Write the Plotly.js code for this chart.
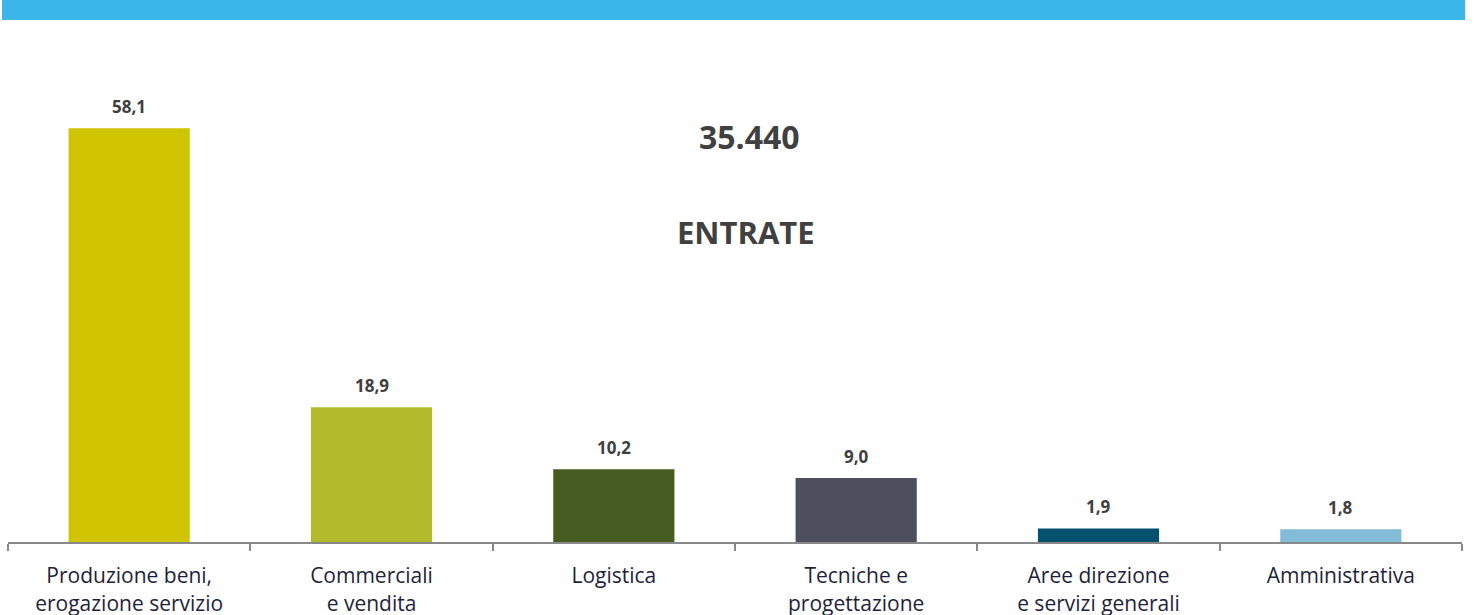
<!DOCTYPE html>
<html>
<head>
<meta charset="utf-8">
<script src="https://cdn.plot.ly/plotly-3.0.1.min.js"></script>
<style>html,body{margin:0;padding:0;background:#fff;}#chart{width:1474px;height:615px;}</style>
</head>
<body>
<div id="chart"></div>
<script>
const categories = [
  "Produzione beni,<br>erogazione servizio",
  "Commerciali<br>e vendita",
  "Logistica",
  "Tecniche e<br>progettazione",
  "Aree direzione<br>e servizi generali",
  "Amministrativa"
];
const values = [58.1, 18.9, 10.2, 9.0, 1.9, 1.8];
const valueLabels = ["58,1", "18,9", "10,2", "9,0", "1,9", "1,8"];
const barColors = ["#D0C400", "#B2BC2A", "#465C21", "#4D4E5E", "#04506F", "#82BCD6"];
const totalLabel = "35.440";
const totalCaption = "ENTRATE";

const font = "'Open Sans', Lato, sans-serif";

const trace = {
  type: "bar",
  x: categories,
  y: values,
  marker: {color: barColors},
  width: 0.5,
  hoverinfo: "skip"
};

const annotations = categories.map((c, i) => ({
  x: c, y: values[i], xref: "x", yref: "y",
  text: "<b>" + valueLabels[i] + "</b>",
  showarrow: false, yanchor: "bottom", yshift: 8,
  font: {family: font, size: 17, color: "#404040"}
}));
annotations.push({
  xref: "paper", yref: "paper", x: 0.5103, y: 0.875, yanchor: "middle",
  text: "<b>" + totalLabel + "</b>", showarrow: false,
  font: {family: font, size: 32, color: "#404040"}
});
annotations.push({
  xref: "paper", yref: "paper", x: 0.5076, y: 0.67, yanchor: "middle",
  text: "<b>" + totalCaption + "</b>", showarrow: false,
  font: {family: font, size: 31, color: "#404040"}
});

const layout = {
  width: 1474, height: 615,
  margin: {l: 8, r: 12, t: 79, b: 73},
  paper_bgcolor: "#fff", plot_bgcolor: "#fff",
  showlegend: false,
  xaxis: {
    type: "category",
    showline: true, linecolor: "#888888", linewidth: 2,
    ticks: "outside", tickson: "boundaries", ticklen: 7, tickwidth: 2, tickcolor: "#888888",
    tickfont: {family: font, size: 21, color: "#1F1F3A"},
    ticklabelstandoff: 14,
    showgrid: false, zeroline: false, fixedrange: true
  },
  yaxis: {
    range: [0, 65], visible: false, showgrid: false, zeroline: false, fixedrange: true
  },
  annotations: annotations,
  shapes: [{
    // banner: pixel rows 0..19, columns 2..1465
    type: "rect", xref: "paper", yref: "paper",
    x0: (2 - 8) / 1454, x1: (1465 - 8) / 1454,
    y0: (542 - 20) / 463, y1: 542 / 463,
    fillcolor: "#3BB6E8", line: {width: 0}, layer: "above"
  }]
};

Plotly.newPlot("chart", [trace], layout, {displayModeBar: false, staticPlot: true});
</script>
</body>
</html>
